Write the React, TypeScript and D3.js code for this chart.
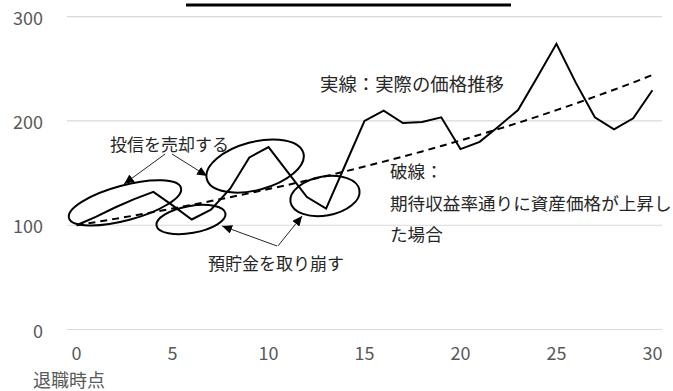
import React from "react";
import * as d3 from "d3";

const years = d3.range(0, 31);
const actualPrice = [100, 108, 117, 125, 132, 119, 105.5, 115, 135, 165, 175, 151, 127, 116, 158, 200, 210, 198, 199, 203.5, 173, 180, 195, 210.5, 242, 274, 237, 203.5, 192, 202.5, 229.5];
const expectedPrice = [100, 103.0, 106.1, 109.3, 112.6, 116.0, 119.6, 123.2, 126.9, 130.7, 134.7, 138.7, 142.9, 147.2, 151.7, 156.3, 161.0, 165.8, 170.8, 176.0, 181.3, 186.8, 192.4, 198.2, 204.2, 210.4, 216.7, 223.3, 230.0, 236.9, 244.1];
const yTicks = [0, 100, 200, 300];
const xTicks = [0, 5, 10, 15, 20, 25, 30];

// annotation anchors in data units (year, value)
const ellipses = [
  { cx: 2.52, cy: 121.4, rx: 58, ry: 17.5, rot: -15 },
  { cx: 5.96, cy: 105.5, rx: 35, ry: 13.5, rot: -10 },
  { cx: 9.3, cy: 156.8, rx: 50, ry: 24, rot: -15 },
  { cx: 12.94, cy: 128.0, rx: 35, ry: 19.5, rot: -10 },
];
const arrows = [
  { x1: 4.61, y1: 168.3, x2: 2.47, y2: 139.5 },
  { x1: 4.97, y1: 168.3, x2: 6.8, y2: 147.2 },
  { x1: 10.44, y1: 80.1, x2: 7.58, y2: 99.3 },
  { x1: 10.49, y1: 80.1, x2: 11.75, y2: 108.9 },
];
const labels = [
  { text: "実線：実際の価格推移", x: 320, y: 83, size: 18.4 },
  { text: "投信を売却する", x: 110, y: 143, size: 17 },
  { text: "預貯金を取り崩す", x: 208, y: 262, size: 17 },
  { text: "破線：", x: 390, y: 170, size: 17.6 },
  { text: "期待収益率通りに資産価格が上昇し", x: 390, y: 202, size: 17.6 },
  { text: "た場合", x: 390, y: 233, size: 17.6 },
];

const W = 673;
const H = 391;
const FONT = "'Noto Sans CJK JP', 'Noto Sans', sans-serif";

export default function App() {
  const xb = d3.scaleBand<number>().domain(years).range([67, 662]).padding(0);
  const x = (v: number) => (xb(0) as number) + xb.bandwidth() / 2 + v * xb.step();
  const y = d3.scaleLinear().domain([0, 300]).range([329.5, 16.7]);

  const line = d3
    .line<number>()
    .x((_, i) => x(years[i]))
    .y((d) => y(d));

  return (
    <svg
      width={W}
      height={H}
      style={{ position: "absolute", left: 0, top: 0, background: "#fff" }}
      fontFamily={FONT}
    >
      <defs>
        <marker
          id="ah"
          viewBox="0 0 10 9"
          refX={10}
          refY={4.5}
          markerWidth={10}
          markerHeight={9}
          markerUnits="userSpaceOnUse"
          orient="auto"
        >
          <path d="M0,0 L10,4.5 L0,9 Z" fill="#000" />
        </marker>
      </defs>
      <rect x={186} y={3.5} width={325} height={3} fill="#000" />
      {yTicks.map((t) => (
        <g key={t}>
          <line x1={67} x2={662} y1={y(t)} y2={y(t)} stroke="#d9d9d9" strokeWidth={1.2} />
          <text x={43} y={y(t)} textAnchor="end" dominantBaseline="central" fontSize={18} fill="#595959">
            {t}
          </text>
        </g>
      ))}
      {xTicks.map((t) => (
        <text key={t} x={x(t)} y={352} textAnchor="middle" dominantBaseline="central" fontSize={18} fill="#595959">
          {t}
        </text>
      ))}
      <text x={33} y={379} dominantBaseline="central" fontSize={18} fill="#595959">
        退職時点
      </text>
      <path d={line(expectedPrice) || ""} fill="none" stroke="#000" strokeWidth={2} strokeDasharray="7 5" />
      <path d={line(actualPrice) || ""} fill="none" stroke="#000" strokeWidth={2} strokeLinejoin="miter" />
      {ellipses.map((e, i) => (
        <ellipse
          key={i}
          cx={0}
          cy={0}
          rx={e.rx}
          ry={e.ry}
          transform={`translate(${x(e.cx)},${y(e.cy)}) rotate(${e.rot})`}
          fill="none"
          stroke="#000"
          strokeWidth={2}
        />
      ))}
      {arrows.map((a, i) => (
        <line
          key={i}
          x1={x(a.x1)}
          y1={y(a.y1)}
          x2={x(a.x2)}
          y2={y(a.y2)}
          stroke="#262626"
          strokeWidth={1}
          markerEnd="url(#ah)"
        />
      ))}
      {labels.map((l, i) => (
        <text key={i} x={l.x} y={l.y} dominantBaseline="central" fontSize={l.size} fill="#262626">
          {l.text}
        </text>
      ))}
    </svg>
  );
}
